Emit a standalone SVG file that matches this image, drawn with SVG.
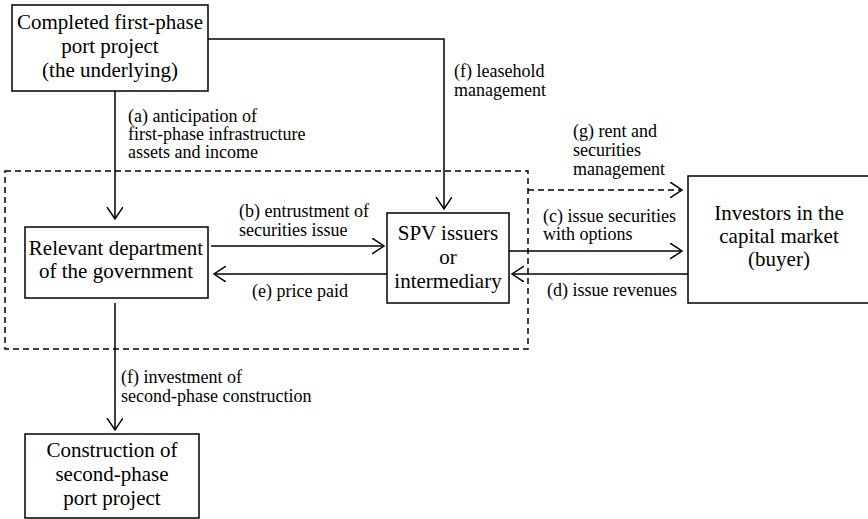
<svg xmlns="http://www.w3.org/2000/svg" width="868" height="519" viewBox="0 0 868 519">
  <style>
    .box { fill: #fff; stroke: #000; stroke-width: 1.5; }
    .node { font-family: "Liberation Serif", "Times New Roman", serif; font-size: 21px; fill: #000; text-anchor: middle; }
    .lbl { font-family: "Liberation Serif", "Times New Roman", serif; font-size: 18px; fill: #000; }
    .edge { fill: none; stroke: #000; stroke-width: 1.5; }
    .dash { fill: none; stroke: #000; stroke-width: 1.5; stroke-dasharray: 6 4; }
  </style>
  <defs>
    <marker id="arrow" markerUnits="userSpaceOnUse" markerWidth="16" markerHeight="20" refX="12" refY="8" orient="auto">
      <path d="M0,0 L12,8 L0,16" fill="none" stroke="#000" stroke-width="1.5"/>
    </marker>
  </defs>
  <rect width="868" height="519" fill="#fff"/>

  <!-- dashed boundary around government and SPV -->
  <rect class="dash" x="5" y="171" width="523" height="178"/>

  <g id="connectors">
    <path class="edge" d="M115,91 V219" marker-end="url(#arrow)"/>
    <path class="edge" d="M208,39 H444 V209" marker-end="url(#arrow)"/>
    <path class="edge" d="M211,246 H384" marker-end="url(#arrow)"/>
    <path class="edge" d="M387,274 H214" marker-end="url(#arrow)"/>
    <path class="edge" d="M509,251 H682" marker-end="url(#arrow)"/>
    <path class="edge" d="M688,274 H512" marker-end="url(#arrow)"/>
    <path class="dash" d="M528,190 H682" marker-end="url(#arrow)"/>
    <path class="edge" d="M115,303 V430" marker-end="url(#arrow)"/>

    <text class="lbl" x="128" y="122">(a) anticipation of</text>
    <text class="lbl" x="128" y="140">first-phase infrastructure</text>
    <text class="lbl" x="128" y="158">assets and income</text>

    <text class="lbl" x="454" y="77">(f) leasehold</text>
    <text class="lbl" x="454" y="96">management</text>

    <text class="lbl" x="573" y="137">(g) rent and</text>
    <text class="lbl" x="573" y="156">securities</text>
    <text class="lbl" x="573" y="175">management</text>

    <text class="lbl" x="239" y="217">(b) entrustment of</text>
    <text class="lbl" x="239" y="236">securities issue</text>

    <text class="lbl" x="252" y="297">(e) price paid</text>

    <text class="lbl" x="543" y="222">(c) issue securities</text>
    <text class="lbl" x="543" y="240">with options</text>

    <text class="lbl" x="547" y="296">(d) issue revenues</text>

    <text class="lbl" x="121" y="383">(f) investment of</text>
    <text class="lbl" x="121" y="402">second-phase construction</text>
  </g>

  <g id="first-phase">
    <rect class="box" x="12" y="5" width="196" height="86"/>
    <text class="node" x="110" y="29">Completed first-phase</text>
    <text class="node" x="110" y="53">port project</text>
    <text class="node" x="110" y="77">(the underlying)</text>
  </g>

  <g id="government">
    <rect class="box" x="25" y="227" width="183" height="71"/>
    <text class="node" x="116" y="255">Relevant department</text>
    <text class="node" x="116" y="278">of the government</text>
  </g>

  <g id="spv">
    <rect class="box" x="387" y="213" width="122" height="90"/>
    <text class="node" x="448" y="240">SPV issuers</text>
    <text class="node" x="448" y="264">or</text>
    <text class="node" x="448" y="288">intermediary</text>
  </g>

  <g id="investors">
    <rect class="box" x="688" y="176" width="200" height="127"/>
    <text class="node" x="779" y="220">Investors in the</text>
    <text class="node" x="779" y="243">capital market</text>
    <text class="node" x="779" y="266">(buyer)</text>
  </g>

  <g id="second-phase">
    <rect class="box" x="25" y="434" width="174" height="84"/>
    <text class="node" x="112" y="457">Construction of</text>
    <text class="node" x="112" y="481">second-phase</text>
    <text class="node" x="112" y="505">port project</text>
  </g>
</svg>
